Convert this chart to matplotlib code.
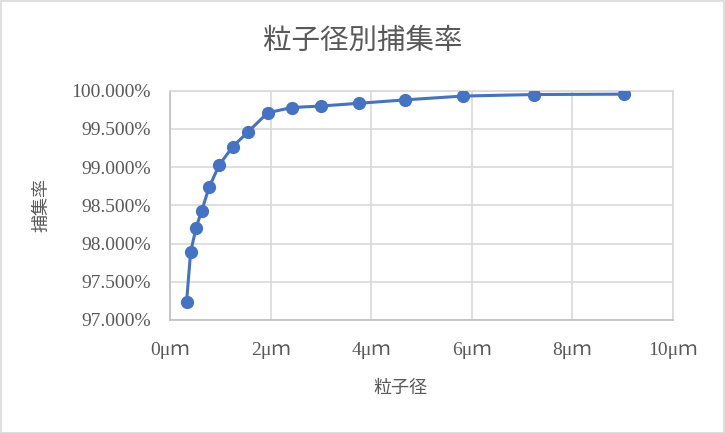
import numpy as np
import matplotlib.pyplot as plt
from matplotlib.patches import Rectangle

# particle diameter [um] and collection efficiency [%]
size_um = [0.33, 0.41, 0.52, 0.63, 0.78, 0.98, 1.25, 1.55, 1.94, 2.42,
           3.01, 3.75, 4.67, 5.82, 7.24, 9.03]
eff_pct = [97.24, 97.89, 98.21, 98.43, 98.74, 99.03, 99.27, 99.46, 99.71, 99.78,
           99.80, 99.835, 99.88, 99.93, 99.95, 99.955]

x_ticks = [0, 2, 4, 6, 8, 10]
y_ticks = [97.0, 97.5, 98.0, 98.5, 99.0, 99.5, 100.0]
x_ticklabels = [f'{v}μｍ' for v in x_ticks]
y_ticklabels = [f'{v:.3f}%' for v in y_ticks]

title = '粒子径別捕集率'
xlabel = '粒子径'
ylabel = '捕集率'

txt = '#595959'
grid = '#d9d9d9'
blue = '#4472C4'
cjk = ['Noto Sans CJK JP', 'DejaVu Sans']
num = ['Liberation Serif', 'Noto Sans CJK JP']

fig = plt.figure(figsize=(7.25, 4.33), dpi=100)
ax = fig.add_axes([0.2345, 0.261, 0.6935, 0.5295])

ax.plot(size_um, eff_pct, color=blue, lw=2.2, marker='o', ms=8.5, zorder=3)

ax.set_xlim(0, 10)
ax.set_ylim(97.0, 100.0)
ax.set_xticks(x_ticks, labels=x_ticklabels, family=num, fontsize=14, color=txt)
ax.set_yticks(y_ticks, labels=y_ticklabels, family=num, fontsize=14, color=txt)
ax.tick_params(length=0)
ax.tick_params(axis='y', pad=14)
ax.tick_params(axis='x', pad=16)

ax.grid(True, color=grid, lw=1.2)
ax.set_axisbelow(True)
for s in ax.spines.values():
    s.set_color(grid)
    s.set_linewidth(1.2)
ax.spines['left'].set_color('#bfbfbf')
ax.spines['bottom'].set_color('#bfbfbf')

fig.text(0.5, 0.905, title, ha='center', va='center', fontsize=20.5,
         color=txt, family=cjk)
fig.text(0.552, 0.103, xlabel, ha='center', va='center', fontsize=13,
         color=txt, family=cjk)
fig.text(0.057, 0.527, ylabel, ha='center', va='center', fontsize=13,
         color=txt, family=cjk, rotation=90)

fig.patches.append(Rectangle((0.001, 0.001), 0.997, 0.996, transform=fig.transFigure,
                             fill=False, edgecolor=grid, lw=1.2))

fig.savefig('out.png', dpi=100)
